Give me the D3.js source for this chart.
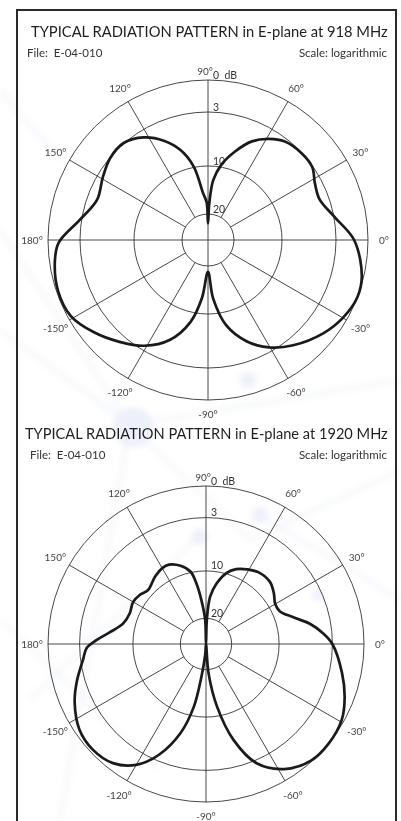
<!DOCTYPE html>
<html>
<head>
<meta charset="utf-8">
<script src="https://cdn.jsdelivr.net/npm/d3@7"></script>
<style>
  html, body { margin: 0; padding: 0; background: #fff; }
  svg { display: block; }
  text { font-family: "Lato", "DejaVu Sans", sans-serif; }
</style>
</head>
<body>
<div id="viz"></div>
<script>
const w = 401;
const h = 821;

// pattern: angle in degrees (0 = right, 90 = up), level in dB below max
const angles918 = [-90, -85, -78, -69, -60, -51, -39, -30, -21, -13, 0, 10, 20, 28, 35, 43, 52, 59, 66, 73, 80, 85, 88, 90,
  92, 96, 101, 107, 114, 122, 131, 140, 149, 160, 171, 181, 188, 199, 209, 219, 229, 239, 249, 258, 264];
const gain918 = [18.8, 13.2, 8.3, 5.5, 3.5, 2.3, 1.1, 0.4, 0.0, 0.2, 1.3, 2.9, 4.2, 3.9, 3.1, 3.05, 3.4, 4.3, 5.6, 7.6, 9.7, 12.9, 17.8, 23.6,
  17.6, 15.6, 9.9, 7.4, 5.5, 3.9, 2.95, 3.05, 3.7, 4.3, 2.85, 1.0, 0.5, 0.15, 0.3, 1.25, 2.35, 3.6, 5.7, 8.75, 13.2];

const angles1920 = [-90, -85, -80, -74, -67, -58, -48, -39, -29, -21, -12, 0, 5, 11, 17, 24, 30, 37, 44, 53, 61, 68, 74, 80, 85, 88, 90,
  92, 96, 99, 102, 108, 115, 120, 127, 137, 143, 150, 158, 166, 173, 178, 182, 187, 196, 204, 214, 223, 232, 240, 247, 254, 259, 262, 266];
const gain1920 = [30, 19.2, 12.0, 6.5, 2.7, 1.0, 0.1, 0.0, 0.25, 0.9, 1.8, 3.0, 4.1, 5.7, 7.6, 9.0, 9.1, 8.45, 7.9, 7.9, 8.4, 9.0, 9.9, 12.4, 15.4, 20.5, 30,
  20.5, 16.1, 12.5, 9.9, 8.8, 8.1, 8.1, 8.5, 9.2, 8.8, 8.55, 8.8, 8.4, 6.9, 5.2, 3.9, 3.35, 2.25, 1.35, 0.5, 0.3, 0.65, 1.75, 3.8, 7.4, 11.9, 18.4, 26];

const ringDb = [0, 3, 10, 20];
const ringLabels = ['0  dB', '3', '10', '20'];
const spokeAngles = [0, 30, 60, 90, 120, 150, 180, 210, 240, 270, 300, 330];
const spokeLabels = ['0°', '30°', '60°', '90°', '120°', '150°', '180°', '-150°', '-120°', '-90°', '-60°', '-30°'];

const titles = ['TYPICAL RADIATION PATTERN in E-plane at 918 MHz', 'TYPICAL RADIATION PATTERN in E-plane at 1920 MHz'];
const fileLabel = 'File:  E-04-010';
const scaleLabel = 'Scale: logarithmic';

const panels = [
  {title: titles[0], angles: angles918, gain: gain918, top: 0, cx: 208, cy: 240, R: 160, titleLen: 357},
  {title: titles[1], angles: angles1920, gain: gain1920, top: 402, cx: 206, cy: 644, R: 158, titleLen: 363}
];

const svg = d3.select('#viz').append('svg')
    .attr('width', w)
    .attr('height', h);

// faint network watermark behind the page
const blur = svg.append('defs').append('filter')
    .attr('id', 'blur')
    .attr('x', '-50%').attr('y', '-50%').attr('width', '200%').attr('height', '200%');
blur.append('feGaussianBlur').attr('stdDeviation', 3);

const bg = svg.append('g').attr('opacity', 0.55);
const bgLines = [[0, 230, 130, 425], [130, 425, 401, 380], [0, 330, 130, 425], [130, 425, 250, 540], [250, 540, 401, 470],
    [200, 535, 30, 700], [0, 620, 160, 770], [260, 515, 401, 600], [60, 160, 0, 90], [130, 425, 60, 820]];
bg.selectAll('line')
    .data(bgLines)
    .join('line')
    .attr('x1', d => d[0]).attr('y1', d => d[1])
    .attr('x2', d => d[2]).attr('y2', d => d[3])
    .attr('stroke', '#e4e9f3')
    .attr('stroke-width', 3)
    .attr('filter', 'url(#blur)');
const bgDots = [[133, 427, 20], [248, 380, 8], [200, 537, 8], [260, 515, 8], [318, 595, 6]];
bg.selectAll('circle')
    .data(bgDots)
    .join('circle')
    .attr('cx', d => d[0]).attr('cy', d => d[1]).attr('r', d => d[2])
    .attr('fill', '#dfe3f6')
    .attr('filter', 'url(#blur)');

// outer frame (bottom runs off the page)
svg.append('path')
    .attr('d', `M17,${h + 5} V10 H396 V${h + 5}`)
    .attr('fill', 'none')
    .attr('stroke', '#2a2a2a')
    .attr('stroke-width', 2);

const rad = d => (90 - d) * Math.PI / 180;

panels.forEach(p => {
    const g = svg.append('g');

    // title squeezed to the reference width with a horizontal scale
    const title = g.append('text')
        .attr('font-size', 16)
        .attr('fill', '#1e1e1e')
        .text(p.title);
    const natural = title.node().getComputedTextLength();
    title.attr('transform', `translate(${388 - p.titleLen},${p.top + 36.5}) scale(${p.titleLen / natural},1)`);

    g.append('text')
        .attr('x', 27 + p.top / 134)
        .attr('y', p.top + 56.5)
        .attr('font-size', 11.5)
        .attr('fill', '#333')
        .style('white-space', 'pre')
        .text(fileLabel);

    g.append('text')
        .attr('x', 387)
        .attr('y', p.top + 56.5)
        .attr('text-anchor', 'end')
        .attr('font-size', 11.5)
        .attr('fill', '#333')
        .text(scaleLabel);

    const r = d3.scaleLinear()
        .domain([0, 3, 10, 20, 30])
        .range([p.R, 0.8 * p.R, 0.4625 * p.R, 0.1625 * p.R, 0])
        .clamp(true);

    const plot = g.append('g')
        .attr('transform', `translate(${p.cx},${p.cy})`);

    // rings
    plot.selectAll('circle.ring')
        .data(ringDb)
        .join('circle')
        .attr('class', 'ring')
        .attr('r', d => r(d))
        .attr('fill', 'none')
        .attr('stroke', '#333')
        .attr('stroke-width', 0.9);

    // spokes: axes go through the centre, others stop at the 20 dB ring
    plot.selectAll('line.spoke')
        .data(spokeAngles)
        .join('line')
        .attr('class', 'spoke')
        .attr('x1', d => d % 90 === 0 ? 0 : r(20) * Math.cos(d * Math.PI / 180))
        .attr('y1', d => d % 90 === 0 ? 0 : -r(20) * Math.sin(d * Math.PI / 180))
        .attr('x2', d => p.R * Math.cos(d * Math.PI / 180))
        .attr('y2', d => -p.R * Math.sin(d * Math.PI / 180))
        .attr('stroke', '#333')
        .attr('stroke-width', 0.9);

    // angle labels
    plot.selectAll('text.angle')
        .data(spokeAngles)
        .join('text')
        .attr('class', 'angle')
        .attr('x', d => d === 90 ? -3 : (p.R + 16) * Math.cos(d * Math.PI / 180))
        .attr('y', d => d === 90 ? -p.R - 9 : d === 270 ? p.R + 14 : -(p.R + 16) * Math.sin(d * Math.PI / 180))
        .attr('text-anchor', 'middle')
        .attr('dominant-baseline', 'central')
        .attr('font-size', 10)
        .attr('fill', '#444')
        .text((d, i) => spokeLabels[i]);

    // ring labels
    plot.selectAll('text.ringlabel')
        .data(ringDb)
        .join('text')
        .attr('class', 'ringlabel')
        .attr('x', 5)
        .attr('y', d => -r(d) - 1.5)
        .attr('font-size', 10.5)
        .attr('fill', '#333')
        .style('white-space', 'pre')
        .text((d, i) => ringLabels[i]);

    const pts = p.angles.map((a, i) => [a, p.gain[i]]);
    const line = d3.lineRadial()
        .angle(d => rad(d[0]))
        .radius(d => r(d[1]))
        .curve(d3.curveCatmullRomClosed.alpha(0.5));

    plot.append('path')
        .attr('d', line(pts))
        .attr('fill', 'none')
        .attr('stroke', '#1a1a1a')
        .attr('stroke-width', 2.7)
        .attr('stroke-linejoin', 'round');
});
</script>
</body>
</html>
